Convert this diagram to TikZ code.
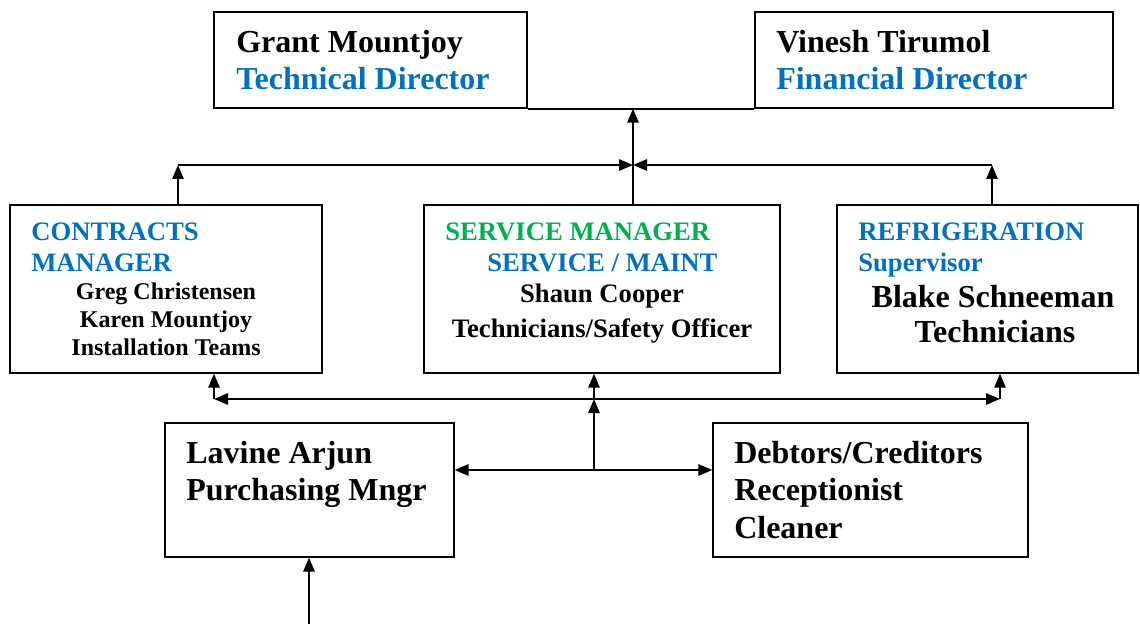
\documentclass[tikz,border=0pt]{standalone}
\usepackage{fontspec}
\setmainfont{Liberation Serif}
\usetikzlibrary{arrows.meta,calc}
\definecolor{headblue}{HTML}{0070C0}
\definecolor{headgreen}{HTML}{00B050}

\begin{document}
\begin{tikzpicture}[x=0.75pt,y=-0.75pt,
    box/.style={draw,line width=1pt,inner sep=0pt},
    big/.style={inner sep=0pt,anchor=base west,font=\bfseries\fontsize{24}{28}\selectfont},
    mid/.style={inner sep=0pt,anchor=base west,font=\bfseries\fontsize{20}{24}\selectfont},
    small/.style={inner sep=0pt,anchor=base,font=\bfseries\fontsize{18}{22}\selectfont},
    link/.style={line width=1.4pt},
    arr/.style={link,-{Triangle[length=10.5pt,width=8.5pt]}}]
\useasboundingbox (0,0) rectangle (1140,624);
% directors
\node[box,minimum width=234.75pt,minimum height=72pt] (grant) at (370.5,60) {};
\node[box,minimum width=268.5pt,minimum height=72pt] (vinesh) at (934,60) {};
\node[big] (gname) at (236,53) {Grant Mountjoy};
\node[big,text=headblue] (grole) at (236,90) {Technical Director};
\node[big] (vname) at (776,53) {Vinesh Tirumol};
\node[big,text=headblue] (vrole) at (776,90) {Financial Director};
% managers
\node[box,minimum width=234pt,minimum height=126pt] (contracts) at (166,289) {};
\node[box,minimum width=267pt,minimum height=126pt] (service) at (602,289) {};
\node[box,minimum width=225.75pt,minimum height=126pt] (refrig) at (987.5,289) {};
\node[mid,text=headblue] (chead) at (31,241) {CONTRACTS};
\node[mid,text=headblue] (chead2) at (31,272) {MANAGER};
\node[small] (c1) at (166,300) {Greg Christensen};
\node[small] (c2) at (166,328) {Karen Mountjoy};
\node[small] (c3) at (166,355) {Installation Teams};
\node[mid,text=headgreen] (shead) at (445,241) {SERVICE MANAGER};
\node[mid,text=headblue] (shead2) at (487,272) {SERVICE / MAINT};
\node[small,font=\bfseries\fontsize{20}{24}\selectfont] (s1) at (602,302) {Shaun Cooper};
\node[small,font=\bfseries\fontsize{20}{24}\selectfont] (s2) at (602,337) {Technicians/Safety Officer};
\node[mid,text=headblue] (rhead) at (858,241) {REFRIGERATION};
\node[mid,text=headblue] (rhead2) at (858,272) {Supervisor};
\node[small,font=\bfseries\fontsize{24}{28}\selectfont] (r1) at (993,307) {Blake Schneeman};
\node[small,font=\bfseries\fontsize{24}{28}\selectfont] (r2) at (995,343) {Technicians};
% staff
\node[box,minimum width=216.75pt,minimum height=100.5pt] (lavine) at (309.5,490) {};
\node[box,minimum width=236.25pt,minimum height=100.5pt] (debtors) at (870.5,490) {};
\node[big] (l1) at (186,463) {Lavine Arjun};
\node[big] (l2) at (186,500) {Purchasing Mngr};
\node[big] (d1) at (734,463) {Debtors/Creditors};
\node[big] (d2) at (734,500) {Receptionist};
\node[big] (d3) at (734,538) {Cleaner};
% upper connectors
\draw[link] (grant.south east) -- (vinesh.south west);
\coordinate (hub) at (633,165);
\coordinate (tl) at (178,165);
\coordinate (tr) at (992,165);
\draw[arr] (service.north -| hub) -- (hub |- grant.south);
\draw[arr] (contracts.north -| tl) -- (tl);
\draw[arr] (refrig.north -| tr) -- (tr);
\draw[arr] (tl) -- (hub);
\draw[arr] (tr) -- (hub);
% lower connectors
\coordinate (bl) at (214,399);
\coordinate (br) at (1000,399);
\coordinate (bm) at (594,399);
\coordinate (split) at (594,470);
\coordinate (feed) at (309,624);
\draw[arr] (bm) -- (bl);
\draw[arr] (bm) -- (br);
\draw[arr] (bl) -- (bl |- contracts.south);
\draw[arr] (br) -- (br |- refrig.south);
\draw[arr] (bm) -- (bm |- service.south);
\draw[arr] (split) -- (bm);
\draw[arr] (split) -- (split -| lavine.east);
\draw[arr] (split) -- (split -| debtors.west);
\draw[arr] (feed) -- (feed |- lavine.south);
\end{tikzpicture}
\end{document}
